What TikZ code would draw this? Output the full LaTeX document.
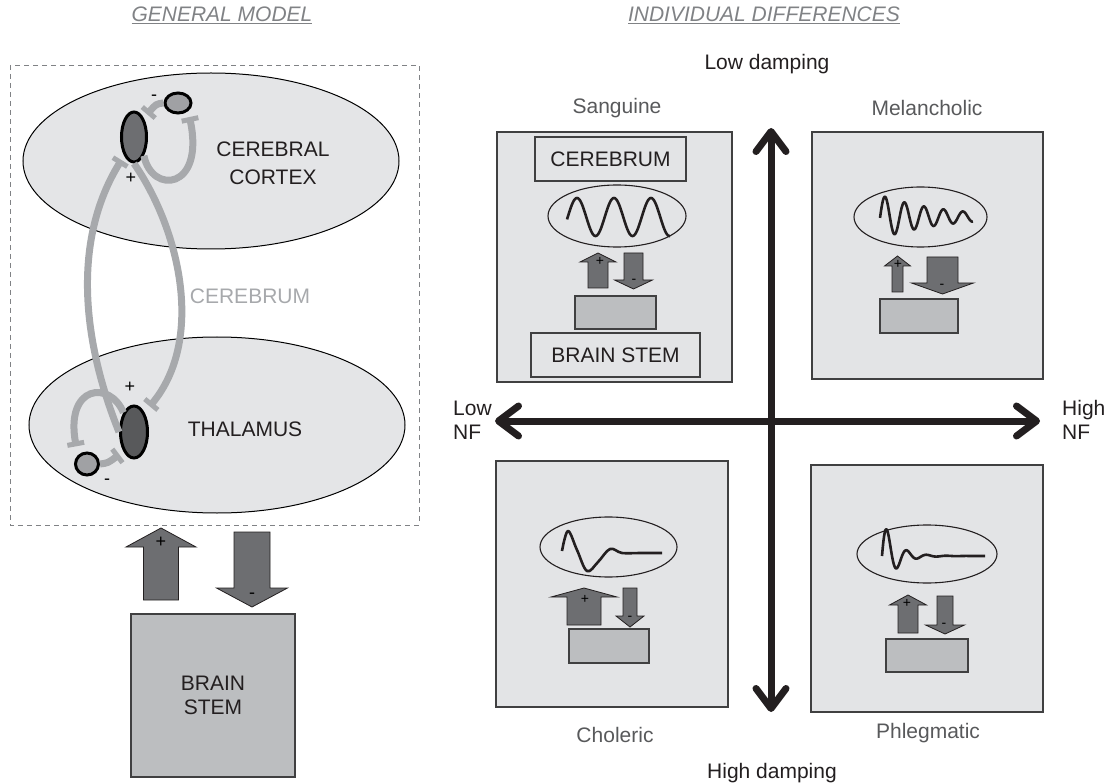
\documentclass[tikz,border=0pt]{standalone}
\usepackage{fontspec}
\setmainfont{Liberation Sans}
\usetikzlibrary{arrows.meta,shapes.geometric,positioning}
\definecolor{lobefill}{RGB}{228,229,231}
\definecolor{panelfill}{RGB}{227,228,230}
\definecolor{stemfill}{RGB}{188,190,192}
\definecolor{drivefill}{RGB}{109,110,113}
\definecolor{tractgray}{RGB}{167,169,172}
\definecolor{cellmid}{RGB}{160,161,164}
\definecolor{pyrcortex}{RGB}{109,110,113}
\definecolor{pyrthal}{RGB}{88,89,91}
\definecolor{inkdark}{RGB}{35,31,32}
\definecolor{boxedge}{RGB}{64,64,65}
\definecolor{labelgray}{RGB}{88,89,91}
\definecolor{titlegray}{RGB}{128,130,133}

% fat drive arrow: centre x, half shaft, half head, tip y, head base y, tail y
\newcommand{\blockarrow}[6]{%
  \filldraw[fatarrow] (#1,#4) -- ({#1+#3},#5) -- ({#1+#2},#5) -- ({#1+#2},#6)
    -- ({#1-#2},#6) -- ({#1-#2},#5) -- ({#1-#3},#5) -- cycle;}

\begin{document}
\begin{tikzpicture}[x=1pt, y=-1pt,
  bigtext/.style={font=\fontsize{21}{24}\selectfont, text=inkdark, align=center, inner sep=0pt},
  typetext/.style={font=\fontsize{21}{24}\selectfont, text=labelgray, inner sep=0pt},
  heading/.style={font=\fontsize{21}{24}\selectfont\itshape, text=titlegray, inner sep=0pt},
  sign/.style={font=\fontsize{18}{18}\selectfont, text=black, inner sep=0pt},
  smallsign/.style={font=\fontsize{14}{14}\selectfont, text=black, inner sep=0pt},
  lobe/.style={ellipse, draw=black, line width=1pt, fill=lobefill, inner sep=0pt},
  pyramid/.style={ellipse, draw=black, line width=3pt, inner sep=0pt},
  inter/.style={ellipse, draw=black, line width=3pt, fill=cellmid, inner sep=0pt},
  tract/.style={draw=tractgray, line width=7pt, -{Bar[width=17pt,line width=5pt]}},
  cerebrumframe/.style={draw=titlegray, line width=0.9pt, dash pattern=on 5pt off 4pt},
  panel/.style={draw=boxedge, line width=1.3pt, fill=panelfill, inner sep=0pt},
  stembox/.style={draw=boxedge, line width=1.3pt, fill=stemfill, inner sep=0pt},
  oscring/.style={ellipse, draw=inkdark, line width=1.1pt, inner sep=0pt},
  wave/.style={draw=inkdark, line width=2.6pt, line join=round},
  fatarrow/.style={fill=drivefill, draw=inkdark, line width=0.8pt},
  axis/.style={draw=inkdark, line width=7pt,
    {Straight Barb[length=20pt,width=30pt,round]}-{Straight Barb[length=20pt,width=30pt,round]}}
]
\useasboundingbox (0,0) rectangle (1105,783);

% ---- general model: cortex and thalamus loops inside the cerebrum ----
\node[heading, anchor=base] (generaltitle) at (222,22) {\underline{GENERAL MODEL}};
\draw[cerebrumframe] (10,65) rectangle (419,525);
\node[lobe, minimum width=376pt, minimum height=176pt] (cortex) at (211,161) {};
\node[lobe, minimum width=376pt, minimum height=176pt] (thalamus) at (217,425) {};
\node[bigtext] (cortexlbl) at (273,163) {CEREBRAL\\[4pt]CORTEX};
\node[bigtext] (thalamuslbl) at (245,429) {THALAMUS};
\node[bigtext, text=tractgray] (cerebrumlbl) at (250,296) {CEREBRUM};

% cells: pyramidal/relay (dark) and inhibitory (light)
\node[pyramid, fill=pyrcortex, minimum width=25pt, minimum height=50pt] (pyrc) at (134,137) {};
\node[inter, minimum width=26pt, minimum height=20pt] (intc) at (178,103) {};
\node[pyramid, fill=pyrthal, minimum width=27pt, minimum height=52pt] (pyrt) at (134,432) {};
\node[inter, minimum width=23pt, minimum height=22pt] (intt) at (87,464) {};

% tracts, each ending in a synapse bar
\draw[tract, shorten >=5pt] (intc.west) .. controls (156,104) .. (pyrc.north east);
\draw[tract, shorten >=6pt] (pyrc.south east) .. controls (152,195) and (205,190) .. (intc.south east);
\draw[tract, shorten >=5pt] (pyrt.west) .. controls (82,340) and (72,240) .. (pyrc.south west);
\draw[tract, shorten >=8pt] (pyrc.south) .. controls (180,230) and (205,340) .. (pyrt.north east);
\draw[tract, shorten >=9pt] (pyrt.north west) .. controls (110,380) and (65,385) .. (intt.north west);
\draw[tract, shorten >=5pt] (intt.east) .. controls (108,463) .. (pyrt.south west);

\node[sign] (intcminus) at (154,98) {-};
\node[sign] (pyrcplus) at (131,178) {+};
\node[sign] (pyrtplus) at (130,387) {+};
\node[sign] (inttminus) at (107,482) {-};

% drive to and from the brain stem
\blockarrow{161}{17.5}{35}{528}{547}{600}
\blockarrow{252}{18}{35.5}{607}{588}{532}
\node[sign] (stemplus) at (161,542) {+};
\node[sign] (stemminus) at (252,596) {-};
\node[stembox, bigtext, minimum width=164pt, minimum height=163pt] (stem) at (213,695.5) {BRAIN\\STEM};

% ---- individual differences: four temperaments ----
\node[heading, anchor=base] (diffstitle) at (764,22) {\underline{INDIVIDUAL DIFFERENCES}};

% Sanguine (top left): full drive both ways, undamped ringing
\node[panel, minimum width=235pt, minimum height=250pt] (sanguine) at (614.5,257) {};
\node[typetext] (sanguinelbl) at (617,108) {Sanguine};
\node[panel, bigtext, minimum width=151pt, minimum height=44pt] (sangcerebrum) at (610.5,159) {CEREBRUM};
\node[oscring, minimum width=138pt, minimum height=62pt] (sangosc) at (617,216) {};
\draw[wave] plot[domain=567:670, samples=160] (\x,{217-19*sin((\x-577)/37*360+90)});
\blockarrow{598}{10}{18}{253}{262}{288}
\blockarrow{633.5}{9.5}{19}{289}{280}{253}
\node[smallsign] (sangplus) at (600,261) {+};
\node[smallsign] (sangminus) at (634,281) {-};
\node[stembox, minimum width=81pt, minimum height=33pt] (sangstem) at (615.5,312.5) {};
\node[panel, bigtext, minimum width=169pt, minimum height=44pt] (sangbrainstem) at (615.5,355) {BRAIN STEM};

% Melancholic (top right): weak up, strong down
\node[panel, minimum width=231pt, minimum height=247pt] (melancholic) at (927.5,255.5) {};
\node[typetext] (melancholiclbl) at (927,108) {Melancholic};
\node[oscring, minimum width=133pt, minimum height=60pt] (melosc) at (920.5,217) {};
\draw[wave] plot[domain=880:973, samples=200] (\x,{217-22*exp(-(\x-880)/60)*sin((\x-885)/19.5*360+90)});
\blockarrow{897.5}{5.5}{13}{256}{266}{292}
\blockarrow{942.5}{15.5}{31}{294}{283}{257}
\node[smallsign] (melplus) at (898,264) {+};
\node[smallsign] (melminus) at (942,286) {-};
\node[stembox, minimum width=78pt, minimum height=34pt] (melstem) at (919,316) {};

% Choleric (bottom left): strong up, weak down
\node[panel, minimum width=232pt, minimum height=246pt] (choleric) at (612,584) {};
\node[typetext] (cholericlbl) at (615,735) {Choleric};
\node[oscring, minimum width=137pt, minimum height=60pt] (cholosc) at (608.5,547) {};
\draw[wave] plot[smooth, tension=0.6] coordinates {(562,551) (568,531) (577,550) (587,571)
  (598,562) (610,549) (622,553) (640,553) (662,553)};
\blockarrow{584}{17}{33}{588}{597}{625}
\blockarrow{630}{7}{14}{627}{616}{588}
\node[smallsign] (cholplus) at (585,599) {+};
\node[smallsign] (cholminus) at (630,618) {-};
\node[stembox, minimum width=80pt, minimum height=34pt] (cholstem) at (609,646) {};

% Phlegmatic (bottom right): balanced but weak, fast decay
\node[panel, minimum width=232pt, minimum height=247pt] (phlegmatic) at (927,588.5) {};
\node[typetext] (phlegmaticlbl) at (928,733) {Phlegmatic};
\node[oscring, minimum width=140pt, minimum height=58pt] (phlosc) at (927,554) {};
\draw[wave] plot[domain=882:985, samples=200] (\x,{556-26*exp(-(\x-887)/13)*cos((\x-887)/20*360)});
\blockarrow{908}{10}{18.5}{595}{605}{633}
\blockarrow{945}{8}{19.5}{634}{625}{596}
\node[smallsign] (phlplus) at (907,603) {+};
\node[smallsign] (phlminus) at (944,625) {-};
\node[stembox, minimum width=82pt, minimum height=33pt] (phlstem) at (927,655.5) {};

% axes: damping (vertical) and NF (horizontal)
\coordinate (dampinglow) at (771,128);
\coordinate (dampinghigh) at (771,712);
\coordinate (nflow) at (495,421);
\coordinate (nfhigh) at (1040,421);
\draw[axis] (dampinghigh) -- (dampinglow);
\draw[axis] (nflow) -- (nfhigh);
\node[bigtext] (lowdamplbl) at (767,64) {Low damping};
\node[bigtext] (highdamplbl) at (772,773) {High damping};
\node[bigtext, align=left, anchor=west] (lownflbl) at (453,420) {Low\\NF};
\node[bigtext, align=left, anchor=west] (highnflbl) at (1062,420) {High\\NF};
\end{tikzpicture}
\end{document}
